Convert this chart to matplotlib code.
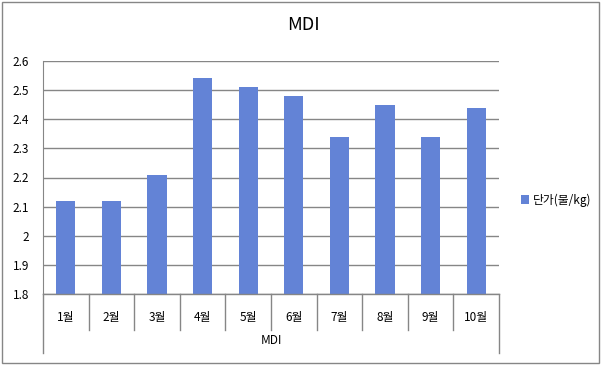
import matplotlib.pyplot as plt
from matplotlib.patches import Rectangle

plt.rcParams['font.family'] = ['Noto Sans CJK KR', 'DejaVu Sans']

months = ['1월', '2월', '3월', '4월', '5월', '6월', '7월', '8월', '9월', '10월']
prices = [2.12, 2.12, 2.21, 2.54, 2.51, 2.48, 2.34, 2.45, 2.34, 2.44]
group_label = 'MDI'
series_name = '단가(불/kg)'
yticks = [1.8, 1.9, 2, 2.1, 2.2, 2.3, 2.4, 2.5, 2.6]

W, H = 603, 365
fig = plt.figure(figsize=(W / 100, H / 100), dpi=100)
# chart border
fig.patches.append(Rectangle((2 / W, 2 / H), 597 / W, 361 / H, transform=fig.transFigure,
                             fill=False, edgecolor='#868686', linewidth=1))

ax = fig.add_axes([43 / W, 1 - 294 / H, 456 / W, 233 / H])
x = list(range(len(months)))
bars = ax.bar(x, prices, width=0.42, color='#6383D6', label=series_name, zorder=3)

ax.set_ylim(1.8, 2.6)
ax.set_xlim(-0.5, len(months) - 0.5)
ax.set_yticks(yticks)
ax.set_yticklabels([('%g' % v) for v in yticks], fontsize=8.5)
ax.tick_params(axis='y', length=0, pad=10)
ax.set_xticks([])
ax.grid(axis='y', color='#868686', linewidth=1, zorder=1)
for s in ['top', 'right', 'bottom']:
    ax.spines[s].set_visible(False)
ax.spines['left'].set_color('#868686')
ax.axhline(1.8, color='#868686', linewidth=1, zorder=4, clip_on=False)

# multi-level category axis
tr = ax.get_xaxis_transform()
for i in range(len(months) + 1):
    bottom = -0.253 if i in (0, len(months)) else -0.155
    ax.plot([i - 0.5, i - 0.5], [0, bottom], color='#868686', linewidth=1,
            transform=tr, clip_on=False)
for i, m in enumerate(months):
    ax.text(i, -0.103, m, transform=tr, ha='center', va='center', fontsize=8.5)
ax.text((len(months) - 1) / 2, -0.2, group_label, transform=tr, ha='center', va='center', fontsize=8.5)

fig.text(303 / W, 1 - 25 / H, 'MDI', ha='center', va='center', fontsize=13)

fig.legend(handles=[bars], labels=[series_name], loc='center left',
           bbox_to_anchor=(510 / W, 1 - 200 / H), frameon=False, fontsize=8.5,
           handlelength=0.7, handleheight=0.7, handletextpad=0.3)

fig.savefig('out.png', dpi=100)
